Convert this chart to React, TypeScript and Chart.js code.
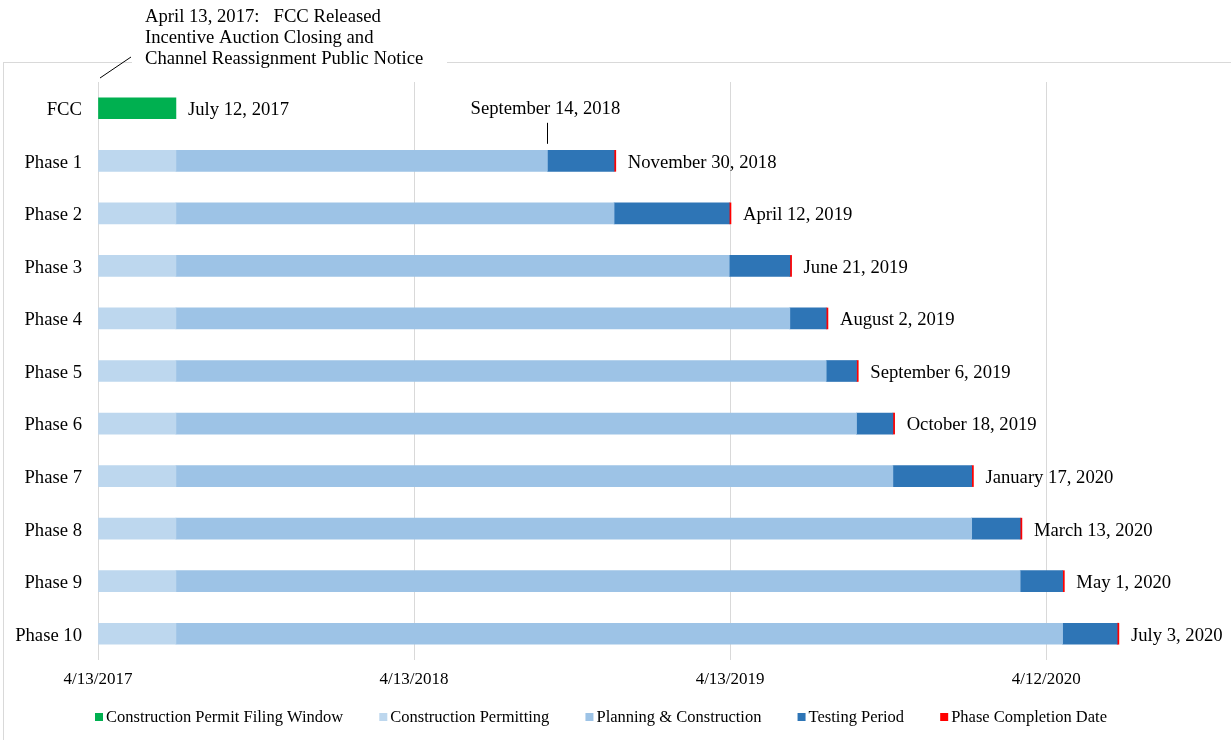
import { useEffect, useRef } from 'react';
import { Chart, registerables } from 'chart.js';
Chart.register(...registerables);

const FONT = '"Liberation Serif", "Times New Roman", serif';

// Days counted from 4/13/2017
const categories = ['FCC', 'Phase 1', 'Phase 2', 'Phase 3', 'Phase 4', 'Phase 5', 'Phase 6', 'Phase 7', 'Phase 8', 'Phase 9', 'Phase 10'];
const filingWindow = [90, null, null, null, null, null, null, null, null, null, null];
const permitting = [null, 90, 90, 90, 90, 90, 90, 90, 90, 90, 90];
const testStartDay = [null, 519, 596, 729, 799, 841, 876, 918, 1009, 1065, 1114];
const completionDay = [90, 596, 729, 799, 841, 876, 918, 1009, 1065, 1114, 1177];
const completionMark = [null, 2, 2, 2, 2, 2, 2, 2, 2, 2, 2];
const completionLabels = ['July 12, 2017', 'November 30, 2018', 'April 12, 2019', 'June 21, 2019', 'August 2, 2019', 'September 6, 2019', 'October 18, 2019', 'January 17, 2020', 'March 13, 2020', 'May 1, 2020', 'July 3, 2020'];
const tickValues = [0, 365, 730, 1095];
const tickLabels = ['4/13/2017', '4/13/2018', '4/13/2019', '4/12/2020'];
const seriesNames = ['Construction Permit Filing Window', 'Construction Permitting', 'Planning & Construction', 'Testing Period', 'Phase Completion Date'];
const seriesColors = ['#00B050', '#BDD7EE', '#9DC3E6', '#2E75B6', '#FF0000'];
const phase1TestStartLabel = 'September 14, 2018';
const topNote = ['April 13, 2017:   FCC Released', 'Incentive Auction Closing and', 'Channel Reassignment Public Notice'];

const planning = testStartDay.map((t, i) => (t === null ? null : t - (permitting[i] as number)));
const testing = completionDay.map((c, i) => (testStartDay[i] === null ? null : c - (testStartDay[i] as number)));

const decorPlugin = {
  id: 'decor',
  beforeDraw(chart: any) {
    const ctx = chart.ctx;
    ctx.save();
    ctx.fillStyle = '#fff';
    ctx.fillRect(0, 0, chart.width, chart.height);
    ctx.strokeStyle = '#d9d9d9';
    ctx.lineWidth = 1;
    ctx.strokeRect(3.5, 62.5, 1300, 800);
    ctx.fillStyle = '#fff';
    ctx.fillRect(132, 52, 315, 16);
    ctx.restore();
  },
  afterDatasetsDraw(chart: any) {
    const ctx = chart.ctx;
    const x = chart.scales.x;
    const y = chart.scales.y;
    ctx.save();
    ctx.font = `18.67px ${FONT}`;
    ctx.fillStyle = '#000';
    ctx.textBaseline = 'middle';
    ctx.textAlign = 'left';
    completionLabels.forEach((lab, i) => {
      const px = x.getPixelForValue(completionDay[i] + (completionMark[i] || 0)) + 12;
      ctx.fillText(lab, px, y.getPixelForValue(i) + 2);
    });
    // Phase 1 testing start annotation
    const sx = x.getPixelForValue(testStartDay[1] as number);
    const py = y.getPixelForValue(1);
    ctx.textAlign = 'center';
    ctx.fillText(phase1TestStartLabel, sx - 2, py - 52);
    ctx.strokeStyle = '#000';
    ctx.lineWidth = 1;
    ctx.beginPath();
    ctx.moveTo(Math.round(sx) + 0.5, py - 38);
    ctx.lineTo(Math.round(sx) + 0.5, py - 17);
    ctx.stroke();
    // Top note
    const ax = x.getPixelForValue(0);
    ctx.beginPath();
    ctx.moveTo(ax + 2, 78);
    ctx.lineTo(ax + 33, 57);
    ctx.stroke();
    ctx.textAlign = 'left';
    topNote.forEach((line, i) => {
      ctx.fillText(line, 145, 17.5 + i * 20.7);
    });
    // Legend
    ctx.font = `16.5px ${FONT}`;
    const widths = seriesNames.map((n) => ctx.measureText(n).width);
    const box = 8;
    const gapText = 3;
    const startX = 95;
    const endX = 1107;
    const total = widths.reduce((a, w) => a + w + box + gapText, 0);
    const gap = (endX - startX - total) / (seriesNames.length - 1);
    let cx = startX;
    const ly = 717;
    seriesNames.forEach((n, i) => {
      ctx.fillStyle = seriesColors[i];
      ctx.fillRect(cx, ly - 4, box, box);
      ctx.fillStyle = '#000';
      ctx.fillText(n, cx + box + gapText, ly + 1);
      cx += box + gapText + widths[i] + gap;
    });
    ctx.restore();
  },
};

export default function App() {
  const ref = useRef<HTMLCanvasElement>(null);
  useEffect(() => {
    const canvas = ref.current!;
    const data = [filingWindow, permitting, planning, testing, completionMark];
    const chart = new Chart(canvas, {
      type: 'bar',
      data: {
        labels: categories,
        datasets: seriesNames.map((name, i) => ({
          label: name,
          data: data[i],
          backgroundColor: seriesColors[i],
          borderWidth: 0,
          barThickness: 21,
        })),
      },
      options: {
        indexAxis: 'y',
        responsive: false,
        animation: false,
        devicePixelRatio: 1,
        layout: { padding: { top: 82, right: 3, left: 0, bottom: 0 } },
        plugins: { legend: { display: false }, tooltip: { enabled: false } },
        scales: {
          x: {
            type: 'linear',
            stacked: true,
            min: 0,
            max: 1305,
            afterBuildTicks: (s: any) => {
              s.ticks = tickValues.map((v) => ({ value: v }));
            },
            afterFit: (s: any) => {
              s.height = 80;
            },
            ticks: {
              autoSkip: false,
              maxRotation: 0,
              padding: 9,
              color: '#000',
              font: { family: FONT, size: 17 },
              callback: (v: any) => {
                const idx = tickValues.indexOf(Number(v));
                return idx >= 0 ? tickLabels[idx] : '';
              },
            },
            grid: { color: '#d9d9d9', lineWidth: 1, drawTicks: false },
            border: { display: false },
          },
          y: {
            stacked: true,
            afterFit: (s: any) => {
              s.width = 98;
            },
            ticks: {
              padding: 8,
              labelOffset: 2,
              color: '#000',
              font: { family: FONT, size: 18.67 },
            },
            grid: { display: false },
            border: { display: false },
          },
        },
      },
      plugins: [decorPlugin],
    } as any);
    return () => chart.destroy();
  }, []);
  return (
    <div style={{ position: 'fixed', left: 0, top: 0, width: 1231, height: 740, background: '#fff' }}>
      <canvas ref={ref} width={1231} height={740} style={{ width: 1231, height: 740, display: 'block' }} />
    </div>
  );
}
